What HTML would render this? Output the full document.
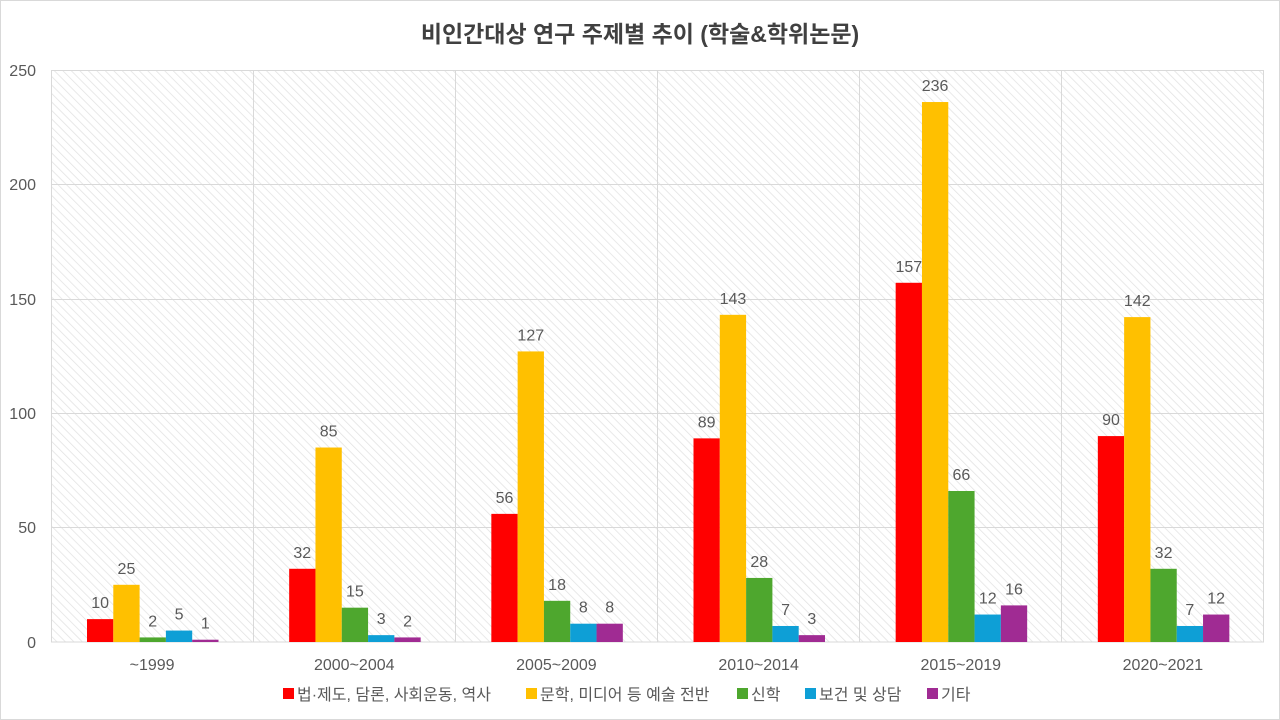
<!DOCTYPE html>
<html><head><meta charset="utf-8"><style>
html,body{margin:0;padding:0;background:#fff;}
svg{display:block;font-family:"Liberation Sans","Noto Sans CJK KR",sans-serif;}
</style></head><body>
<svg width="1280" height="720" viewBox="0 0 1280 720">
<defs>
<pattern id="h" patternUnits="userSpaceOnUse" width="6" height="6" patternTransform="rotate(-45)">
<rect width="6" height="6" fill="#fff"/><line x1="0" y1="0" x2="0" y2="6" stroke="#e2e2e2" stroke-width="1.5"/>
</pattern>
</defs>
<rect x="0.5" y="0.5" width="1279" height="719" fill="#fff" stroke="#d9d9d9"/>
<text x="640" y="42" text-anchor="middle" font-size="23" font-weight="bold" fill="#404040">비인간대상 연구 주제별 추이 (학술&amp;학위논문)</text>
<rect x="51" y="70" width="1213" height="572" fill="url(#h)"/>
<g stroke="#d9d9d9" stroke-width="1">
<line x1="51" y1="70.5" x2="1264" y2="70.5"/>
<line x1="51" y1="184.5" x2="1264" y2="184.5"/>
<line x1="51" y1="299.5" x2="1264" y2="299.5"/>
<line x1="51" y1="413.5" x2="1264" y2="413.5"/>
<line x1="51" y1="527.5" x2="1264" y2="527.5"/>
<line x1="51" y1="642" x2="1264" y2="642"/>
<line x1="51.5" y1="70" x2="51.5" y2="642"/>
<line x1="253.5" y1="70" x2="253.5" y2="642"/>
<line x1="455.5" y1="70" x2="455.5" y2="642"/>
<line x1="657.5" y1="70" x2="657.5" y2="642"/>
<line x1="859.5" y1="70" x2="859.5" y2="642"/>
<line x1="1061.5" y1="70" x2="1061.5" y2="642"/>
<line x1="1263.5" y1="70" x2="1263.5" y2="642"/>
</g>
<g font-size="16" fill="#595959" text-anchor="end">
<text x="36" y="648">0</text><text x="36" y="533">50</text><text x="36" y="419">100</text>
<text x="36" y="305">150</text><text x="36" y="190">200</text><text x="36" y="76">250</text>
</g>
<g font-size="16" fill="#595959" text-anchor="middle" id="bars"></g>
<g font-size="16" fill="#595959">
<rect x="283" y="688" width="11" height="11" fill="#FF0000"/><text x="297" y="700">법·제도, 담론, 사회운동, 역사</text>
<rect x="526" y="688" width="11" height="11" fill="#FFC000"/><text x="540" y="700">문학, 미디어 등 예술 전반</text>
<rect x="737" y="688" width="11" height="11" fill="#4EA72E"/><text x="751" y="700">신학</text>
<rect x="805" y="688" width="11" height="11" fill="#0E9FD6"/><text x="819" y="700">보건 및 상담</text>
<rect x="927" y="688" width="11" height="11" fill="#A02B93"/><text x="941" y="700">기타</text>
</g>
</svg>
<script>
var data=[[10,25,2,5,1],[32,85,15,3,2],[56,127,18,8,8],[89,143,28,7,3],[157,236,66,12,16],[90,142,32,7,12]];
var cats=["~1999","2000~2004","2005~2009","2010~2014","2015~2019","2020~2021"];
var cols=["#FF0000","#FFC000","#4EA72E","#0E9FD6","#A02B93"];
var g=document.getElementById("bars"),s="";
var cw=1213/6,bw=26.3;
for(var i=0;i<6;i++){var x0=51+i*cw;
s+='<text x="'+(x0+cw/2)+'" y="670">'+cats[i]+'</text>';
for(var j=0;j<5;j++){var v=data[i][j],h=v*2.288,x=x0+36+j*bw;
s+='<rect x="'+x+'" y="'+(642-h)+'" width="'+bw+'" height="'+h+'" fill="'+cols[j]+'"/>';
s+='<text x="'+(x+bw/2)+'" y="'+(642-h-11)+'">'+v+'</text>';}}
g.innerHTML=s;
</script>
</body></html>
